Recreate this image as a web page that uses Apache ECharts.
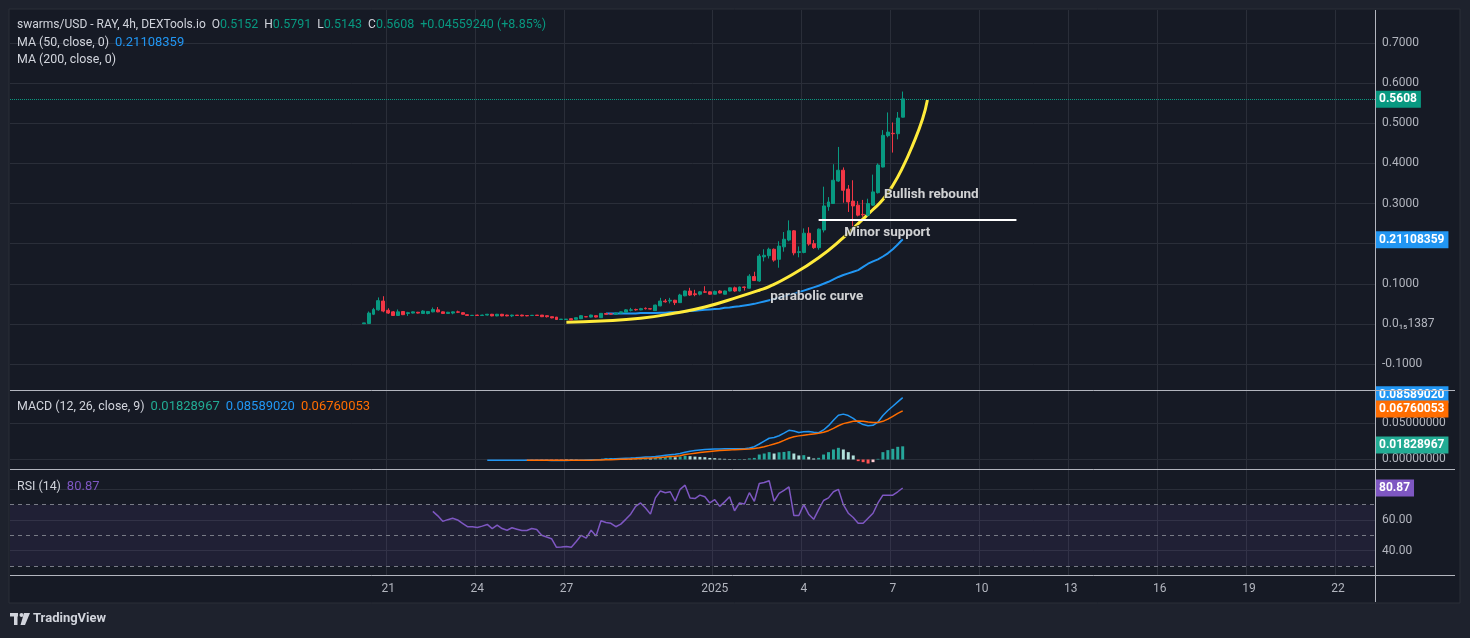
<!DOCTYPE html>
<html><head><meta charset="utf-8">
<script src="https://cdn.jsdelivr.net/npm/echarts@6/dist/echarts.min.js"></script>
<style>html,body{margin:0;padding:0;background:#1e222d;overflow:hidden}#c{width:1470px;height:638px}</style>
</head><body><div id="c"></div>
<script>
// ---------- axis / categories ----------
const firstSlotUTC = Date.UTC(2024, 11, 8, 8);   // first 4h slot shown on the time axis
const slotCount = 276;
const tickDates  = ['2024-12-21 00:00','2024-12-24 00:00','2024-12-27 00:00','2025-01-01 00:00','2025-01-04 00:00','2025-01-07 00:00','2025-01-10 00:00','2025-01-13 00:00','2025-01-16 00:00','2025-01-19 00:00','2025-01-22 00:00'];
const tickLabels = ['21','24','27','2025','4','7','10','13','16','19','22'];
const priceTicks = [-0.1, 0, 0.1, 0.2, 0.3, 0.4, 0.5, 0.6, 0.7];
const macdTicks  = [0, 0.05];
const rsiTicks   = [40, 60, 80];

// ---------- candles (4h): [open, close, low, high] from 2024-12-20 04:00 ----------
const candleStart = '2024-12-20 04:00';
const ohlc = [
 [0.0005,0.0025,0.0005,0.0025],[0.001,0.027,0.001,0.031],[0.024,0.036,0.022,0.040],[0.035,0.058,0.033,0.066],[0.057,0.032,0.029,0.069],
 [0.034,0.027,0.025,0.039],[0.030,0.021,0.020,0.032],[0.021,0.030,0.020,0.036],[0.031,0.023,0.022,0.032],[0.026,0.028,0.020,0.030],
 [0.027,0.030,0.026,0.031],[0.029,0.027,0.026,0.030],[0.026,0.032,0.025,0.034],[0.026,0.031,0.024,0.032],[0.030,0.036,0.029,0.041],
 [0.035,0.030,0.029,0.042],[0.030,0.026,0.025,0.031],[0.026,0.029,0.025,0.030],[0.027,0.030,0.024,0.031],[0.030,0.029,0.027,0.033],
 [0.028,0.024,0.023,0.029],[0.023,0.021,0.020,0.024],[0.021,0.0215,0.020,0.022],[0.022,0.021,0.020,0.023],[0.021,0.022,0.020,0.023],
 [0.022,0.024,0.021,0.025],[0.024,0.020,0.019,0.025],[0.020,0.024,0.019,0.025],[0.024,0.020,0.019,0.025],[0.022,0.020,0.019,0.023],
 [0.020,0.022,0.017,0.023],[0.022,0.021,0.020,0.022],[0.022,0.020,0.019,0.023],[0.021,0.020,0.019,0.022],[0.021,0.0215,0.021,0.022],
 [0.022,0.021,0.021,0.022],[0.022,0.018,0.017,0.022],[0.0205,0.018,0.016,0.021],[0.018,0.015,0.014,0.018],[0.017,0.011,0.010,0.017],
 [0.011,0.012,0.010,0.012],[0.011,0.012,0.010,0.012],[0.013,0.010,0.009,0.014],[0.0115,0.0155,0.011,0.016],[0.013,0.0205,0.012,0.022],
 [0.018,0.0175,0.017,0.018],[0.017,0.022,0.016,0.023],[0.0205,0.017,0.016,0.021],[0.0156,0.0263,0.015,0.027],[0.026,0.024,0.023,0.027],
 [0.025,0.0245,0.024,0.027],[0.024,0.027,0.023,0.028],[0.027,0.030,0.026,0.031],[0.029,0.035,0.028,0.037],[0.034,0.035,0.031,0.040],
 [0.036,0.035,0.033,0.038],[0.035,0.038,0.034,0.040],[0.039,0.038,0.036,0.041],[0.038,0.037,0.036,0.038],[0.033,0.047,0.033,0.048],
 [0.045,0.057,0.044,0.065],[0.057,0.055,0.053,0.062],[0.057,0.059,0.051,0.065],[0.059,0.053,0.047,0.060],[0.053,0.072,0.052,0.075],
 [0.070,0.082,0.069,0.083],[0.082,0.072,0.070,0.090],[0.075,0.073,0.069,0.085],[0.074,0.080,0.071,0.082],[0.080,0.079,0.077,0.094],
 [0.080,0.074,0.073,0.081],[0.074,0.081,0.073,0.083],[0.082,0.077,0.076,0.084],[0.074,0.082,0.073,0.083],[0.082,0.090,0.081,0.091],
 [0.090,0.082,0.080,0.093],[0.082,0.092,0.081,0.093],[0.092,0.091,0.083,0.093],[0.089,0.119,0.088,0.124],[0.118,0.108,0.107,0.130],
 [0.107,0.169,0.105,0.174],[0.167,0.171,0.156,0.186],[0.170,0.186,0.163,0.190],[0.186,0.159,0.155,0.188],[0.161,0.194,0.140,0.206],
 [0.192,0.211,0.180,0.229],[0.209,0.232,0.206,0.258],[0.232,0.177,0.171,0.234],[0.178,0.180,0.166,0.193],[0.178,0.226,0.176,0.238],
 [0.226,0.199,0.195,0.241],[0.200,0.190,0.187,0.209],[0.190,0.236,0.185,0.238],[0.234,0.294,0.228,0.342],[0.292,0.304,0.282,0.316],
 [0.300,0.358,0.300,0.398],[0.356,0.383,0.354,0.441],[0.383,0.333,0.302,0.390],[0.336,0.304,0.279,0.346],[0.306,0.294,0.242,0.358],
 [0.296,0.271,0.268,0.306],[0.273,0.272,0.267,0.309],[0.271,0.300,0.268,0.312],[0.296,0.329,0.294,0.372],[0.327,0.396,0.325,0.400],
 [0.391,0.470,0.390,0.483],[0.469,0.478,0.465,0.527],[0.475,0.474,0.427,0.502],[0.474,0.513,0.460,0.528],[0.5152,0.5608,0.5143,0.5791]
];

// ---------- MA(50) from 2024-12-28 08:00 ----------
const ma50Start = '2024-12-28 08:00';
const ma50 = [
 0.026,0.026,0.026,0.026,0.026,0.026,0.026,0.027,0.027,0.027,
 0.027,0.028,0.028,0.029,0.029,0.030,0.031,0.032,0.033,0.034,
 0.035,0.036,0.037,0.038,0.040,0.041,0.043,0.044,0.046,0.048,
 0.050,0.053,0.056,0.059,0.062,0.065,0.069,0.073,0.076,0.079,
 0.083,0.087,0.091,0.095,0.100,0.105,0.111,0.117,0.122,0.126,
 0.130,0.134,0.142,0.150,0.156,0.161,0.168,0.176,0.186,0.198,
 0.21108359
];

// ---------- drawn annotations ----------
const curveSlots  = [112,119,127,134,140,147,151,153,157,163,168,171,174,176,178,180,182,184,185];
const curveValues = [0.004,0.007,0.014,0.027,0.042,0.068,0.084,0.093,0.118,0.165,0.215,0.25,0.285,0.31,0.345,0.39,0.445,0.51,0.558];
const supportSlots = [163, 203];
const supportValue = 0.259;
const noteTexts  = ['Bullish rebound','Minor support','parabolic curve'];
const noteSlots  = [176, 168, 153];
const noteValues = [0.3212, 0.2265, 0.067];

// ---------- MACD (12,26,9) ----------
const macdStart = '2024-12-24 08:00';
const macdLine = [
 -0.0009,-0.0009,-0.0009,-0.0009,-0.0009,-0.0009,-0.0009,-0.0010,-0.0010,-0.0011,
 -0.0011,-0.0012,-0.0012,-0.0013,-0.0014,-0.0014,-0.0013,-0.0012,-0.0011,-0.0009,
 -0.0007,-0.0005,-0.0003,0.0000,0.0004,0.0008,0.0011,0.0014,0.0017,0.0020,
 0.0024,0.0029,0.0033,0.0036,0.0042,0.0050,0.0058,0.0066,0.0072,0.0084,
 0.0100,0.0114,0.0124,0.0132,0.0138,0.0142,0.0145,0.0147,0.0148,0.0148,
 0.0148,0.0149,0.0150,0.0160,0.0178,0.0215,0.0255,0.0295,0.0305,0.0330,
 0.0365,0.0405,0.0395,0.0375,0.0385,0.0390,0.0378,0.0372,0.0410,0.0470,
 0.0545,0.0615,0.0630,0.0610,0.0570,0.0520,0.0485,0.0470,0.0475,0.0520,
 0.0610,0.0680,0.0740,0.0800,0.08589020
];
const signalStart = '2024-12-25 16:00';
const signalLine = [
 -0.0009,-0.0009,-0.0009,-0.0009,-0.0010,-0.0010,-0.0010,-0.0011,-0.0011,-0.0011,
 -0.0011,-0.0010,-0.0010,-0.0009,-0.0008,-0.0007,-0.0005,-0.0003,-0.0001,0.0002,
 0.0005,0.0008,0.0011,0.0014,0.0017,0.0020,0.0024,0.0029,0.0034,0.0040,
 0.0046,0.0053,0.0068,0.0078,0.0088,0.0097,0.0105,0.0112,0.0118,0.0124,
 0.0129,0.0133,0.0137,0.0140,0.0143,0.0146,0.0152,0.0162,0.0177,0.0196,
 0.0216,0.0236,0.0265,0.0295,0.0315,0.0328,0.0338,0.0346,0.0355,0.0363,
 0.0378,0.0400,0.0432,0.0468,0.0498,0.0515,0.0530,0.0535,0.0530,0.0522,
 0.0515,0.0515,0.0530,0.0560,0.0600,0.0640,0.06760053
];
const histogram = [
 -0.0003,-0.0005,-0.0006,-0.0008,-0.0009,-0.0010,-0.0013,-0.0014,-0.0011,-0.0008,
 -0.0005,-0.0002,0.0003,0.0005,0.0006,0.0008,0.0018,0.0021,0.0015,0.0012,
 0.0010,0.0009,0.0013,0.0017,0.0019,0.0016,0.0022,0.0030,0.0034,0.0038,
 0.0031,0.0040,0.0052,0.0046,0.0040,0.0036,0.0032,0.0022,0.0018,0.0012,
 0.0009,0.0007,0.0005,0.0007,0.0005,0.0015,0.0022,0.0069,0.0083,0.0102,
 0.0083,0.0100,0.0105,0.0116,0.0083,0.0056,0.0060,0.0037,0.0014,0.0023,
 0.0069,0.0102,0.0139,0.0162,0.0139,0.0102,0.0056,-0.0023,-0.0037,-0.0056,
 -0.0037,0.0009,0.0102,0.0130,0.0148,0.0176,0.01828967
];

// ---------- RSI(14) from 2024-12-22 12:00 ----------
const rsiStart = '2024-12-22 12:00';
const rsi = [
 65.6,62.7,59.1,60.2,61.1,60.0,57.8,55.6,55.6,55.1,
 56.0,57.1,54.4,56.7,54.4,53.3,54.9,54.0,53.1,53.1,
 54.4,53.8,50.0,48.9,47.8,42.2,42.4,42.7,42.2,46.0,
 50.0,48.2,53.3,49.6,59.5,58.4,57.8,55.6,57.3,60.4,
 63.8,68.9,71.1,67.8,63.8,74.4,78.9,77.8,78.4,72.2,
 80.0,82.7,74.4,74.0,76.2,75.1,71.1,73.3,68.9,71.8,
 75.1,66.0,71.1,70.4,77.8,72.2,83.8,84.4,85.6,72.2,
 77.3,79.3,81.6,62.9,62.9,70.0,63.8,60.4,66.7,72.7,
 74.4,78.4,80.0,70.0,64.4,61.6,57.8,57.8,61.1,64.4,
 71.1,76.2,76.2,76.2,78.4,80.87
];

// ================= build =================
const FONT = 'Roboto, "Noto Sans", sans-serif';
const pad = n => String(n).padStart(2,'0');
const categories = [];
for (let i = 0; i < slotCount; i++) {
  const d = new Date(firstSlotUTC + i * 4 * 3600e3);
  categories.push(d.getUTCFullYear()+'-'+pad(d.getUTCMonth()+1)+'-'+pad(d.getUTCDate())+' '+pad(d.getUTCHours())+':00');
}
const tickMap = {}; tickDates.forEach((d,i)=>tickMap[d]=tickLabels[i]);
const idx = s => categories.indexOf(s);
const pairs = (start, arr) => { const s = idx(start); return arr.map((v,i)=>[s+i, v]); };

const c0 = idx(candleStart);
const candleData = ohlc.map((r,i)=>[c0+i, r[0], r[1], r[2], r[3]]);
const h0 = idx(signalStart);
const histData = histogram.map((v,i)=>{
  const prev = i>0 ? histogram[i-1] : 0;
  let col;
  if (v >= 0) col = v >= prev ? '#26a69a' : '#b2dfdb';
  else col = v < prev ? '#ff5252' : '#ffcdd2';
  return {value:[h0+i, v], itemStyle:{color:col}};
});

const UP='#089981', DOWN='#f23645', GRID='#2a2e39', TXT='#b2b5be';
const tagLabel = (text,bg)=>({show:true, position:'end', distance:0, formatter:text, backgroundColor:bg, color:'#ffffff',
  opacity:1, padding:[3,4,2,4], fontSize:12, fontWeight:'bold', fontFamily:FONT});
const tagLine = (value,text,bg)=>({silent:true, symbol:['none','none'], animation:false,
  data:[{yAxis:value, lineStyle:{color:'rgba(0,0,0,0)', width:0}, label:tagLabel(text,bg)}]});

const xBase = (gi, showLabel)=>({
  type:'category', gridIndex:gi, data:categories, boundaryGap:true,
  axisLine:{show:false}, axisTick:{show:false},
  axisLabel:{show:showLabel, interval:(i,v)=>tickMap[v]!==undefined, formatter:v=>tickMap[v]||'',
    color:TXT, fontSize:12, fontFamily:FONT, margin:8},
  splitLine:{show:true, interval:(i,v)=>tickMap[v]!==undefined, lineStyle:{color:GRID, width:1}}
});

const T = {fill:'#d1d4dc', fontSize:12.4, fontFamily:FONT};
const V = c => ({fill:c, fontSize:13, fontFamily:FONT});

const chart = echarts.init(document.getElementById('c'), null, {renderer:'canvas'});
const option = {
  animation:false,
  backgroundColor:'#1e222d',
  textStyle:{fontFamily:FONT},
  grid:[
    {left:10, width:1365, top:10, height:380},
    {left:10, width:1365, top:391, height:78},
    {left:10, width:1365, top:470, height:105}
  ],
  xAxis:[xBase(0,false), xBase(1,false), xBase(2,true)],
  yAxis:[
    {type:'value', gridIndex:0, position:'right', min:-0.1647, max:0.7823,
      axisLine:{show:false}, axisTick:{show:false, customValues:priceTicks},
      axisLabel:{customValues:priceTicks, color:TXT, fontSize:12, fontFamily:FONT, margin:7,
        formatter:v=>Math.abs(v)<1e-9?'0.0\u2081\u20851387':(Math.abs(v-0.2)<1e-9?'':v.toFixed(4))},
      splitLine:{lineStyle:{color:GRID}}},
    {type:'value', gridIndex:1, position:'right', min:-0.0132, max:0.0951,
      axisLine:{show:false}, axisTick:{show:false, customValues:macdTicks},
      axisLabel:{customValues:macdTicks, color:TXT, fontSize:12, fontFamily:FONT, margin:7, formatter:v=>v.toFixed(8)},
      splitLine:{lineStyle:{color:GRID}}},
    {type:'value', gridIndex:2, position:'right', min:24.1, max:92.6,
      axisLine:{show:false}, axisTick:{show:false, customValues:rsiTicks},
      axisLabel:{customValues:rsiTicks, color:TXT, fontSize:12, fontFamily:FONT, margin:7, formatter:v=>v===80?'':v.toFixed(2)},
      splitLine:{lineStyle:{color:GRID}}}
  ],
  series:[
    {name:'MA50', type:'line', xAxisIndex:0, yAxisIndex:0, data:pairs(ma50Start, ma50), showSymbol:false,
      lineStyle:{color:'#2196f3', width:2}, z:3, markLine:tagLine(0.21108359,'0.21108359','#2196f3')},
    {name:'parabolic curve', type:'line', xAxisIndex:0, yAxisIndex:0, data:curveSlots.map((s,i)=>[s,curveValues[i]]),
      smooth:0.5, showSymbol:false, lineStyle:{color:'#ffeb3b', width:3}, z:4},
    {name:'swarms/USD', type:'candlestick', xAxisIndex:0, yAxisIndex:0, data:candleData,
      encode:{x:0, y:[1,2,3,4]}, barWidth:'70%', z:5,
      itemStyle:{color:UP, color0:DOWN, borderColor:UP, borderColor0:DOWN, borderWidth:1},
      markLine:{silent:true, symbol:['none','none'], data:[{yAxis:0.5608,
        lineStyle:{type:'dotted', color:UP, width:1, opacity:1}, label:tagLabel('0.5608', UP)}]}},
    {name:'support', type:'line', xAxisIndex:0, yAxisIndex:0, data:supportSlots.map(s=>[s,supportValue]),
      showSymbol:false, lineStyle:{color:'#ffffff', width:2}, z:6},
    {name:'notes', type:'scatter', xAxisIndex:0, yAxisIndex:0, symbolSize:0, z:7,
      data:noteTexts.map((t,i)=>({value:[noteSlots[i], noteValues[i]], name:t})),
      label:{show:true, position:'right', distance:1, formatter:p=>p.name, color:'#ffffff', fontSize:13.5,
        fontWeight:'bold', fontFamily:FONT, textBorderColor:'rgba(22,26,37,0.9)', textBorderWidth:2}},
    {name:'Histogram', type:'bar', xAxisIndex:1, yAxisIndex:1, data:histData, barWidth:'60%',
      markLine:tagLine(0.01828967,'0.01828967','#22ab94')},
    {name:'MACD', type:'line', xAxisIndex:1, yAxisIndex:1, data:pairs(macdStart, macdLine), showSymbol:false,
      lineStyle:{color:'#2196f3', width:1.5}, markLine:tagLine(0.08589020,'0.08589020','#2196f3')},
    {name:'Signal', type:'line', xAxisIndex:1, yAxisIndex:1, data:pairs(signalStart, signalLine), showSymbol:false,
      lineStyle:{color:'#ff6d00', width:1.5}, z:3, markLine:tagLine(0.06760053,'0.06760053','#ff6d00')},
    {name:'RSI', type:'line', xAxisIndex:2, yAxisIndex:2, data:pairs(rsiStart, rsi), showSymbol:false,
      lineStyle:{color:'#7e57c2', width:1.5}, z:4,
      markArea:{silent:true, itemStyle:{color:'rgba(126,87,194,0.10)'}, data:[[{yAxis:30},{yAxis:70}]]},
      markLine:{silent:true, symbol:['none','none'], data:[
        {yAxis:70, lineStyle:{type:[4,4], color:'#787b86', width:1}, label:{show:false}},
        {yAxis:50, lineStyle:{type:[4,4], color:'#787b86', width:1}, label:{show:false}},
        {yAxis:30, lineStyle:{type:[4,4], color:'#787b86', width:1}, label:{show:false}},
        {yAxis:80.87, lineStyle:{color:'rgba(0,0,0,0)', width:0}, label:tagLabel('80.87','#7e57c2')}
      ]}}
  ],
  graphic:[
    {type:'rect', silent:true, z:-100, shape:{x:9, y:9, width:1451, height:594}, style:{fill:'#161a25', stroke:'#2a2e39', lineWidth:1}},
    {type:'line', silent:true, z:50, shape:{x1:10, y1:390.5, x2:1455, y2:390.5}, style:{stroke:'#b2b5be', lineWidth:1}},
    {type:'line', silent:true, z:50, shape:{x1:10, y1:469.5, x2:1455, y2:469.5}, style:{stroke:'#b2b5be', lineWidth:1}},
    {type:'line', silent:true, z:50, shape:{x1:10, y1:575.5, x2:1455, y2:575.5}, style:{stroke:'#b2b5be', lineWidth:1}},
    {type:'line', silent:true, z:50, shape:{x1:1375.5, y1:10, x2:1375.5, y2:602}, style:{stroke:'#b2b5be', lineWidth:1}},
    {type:'text', silent:true, z:60, left:17, top:18, style:{fontFamily:FONT, fontSize:12,
      text:'{t|swarms/USD - RAY, 4h, DEXTools.io}  {t|O}{g|0.5152}  {t|H}{g|0.5791}  {t|L}{g|0.5143}  {t|C}{g|0.5608}  {g|+0.04559240 (+8.85%)}',
      rich:{t:{fill:'#d1d4dc', fontSize:12, fontFamily:FONT}, g:{fill:'#089981', fontSize:12.5, fontFamily:FONT}}}},
    {type:'text', silent:true, z:60, left:17, top:36, style:{fontFamily:FONT, fontSize:12,
      text:'{t|MA (50, close, 0)}  {b|0.21108359}', rich:{t:T, b:V('#2196f3')}}},
    {type:'text', silent:true, z:60, left:17, top:54, style:{fontFamily:FONT, fontSize:12.4, fill:'#d1d4dc', text:'MA (200, close, 0)'}},
    {type:'text', silent:true, z:60, left:17, top:400, style:{fontFamily:FONT, fontSize:12,
      text:'{t|MACD (12, 26, close, 9)}  {g|0.01828967}  {b|0.08589020}  {o|0.06760053}',
      rich:{t:T, g:V('#22ab94'), b:V('#2196f3'), o:V('#ff6d00')}}},
    {type:'text', silent:true, z:60, left:17, top:480, style:{fontFamily:FONT, fontSize:12,
      text:'{t|RSI (14)}  {p|80.87}', rich:{t:T, p:V('#7e57c2')}}},
    {type:'group', silent:true, z:60, left:10, top:613, children:[
      {type:'rect', shape:{x:0, y:0, width:8, height:3.5}, style:{fill:'#d1d4dc'}},
      {type:'rect', shape:{x:4, y:0, width:3.5, height:12}, style:{fill:'#d1d4dc'}},
      {type:'circle', shape:{cx:11.5, cy:2, r:2}, style:{fill:'#d1d4dc'}},
      {type:'polygon', shape:{points:[[14,0],[20,0],[15,12],[10.5,12]]}, style:{fill:'#d1d4dc'}}
    ]},
    {type:'text', silent:true, z:60, left:33, top:612, style:{fontFamily:FONT, fontSize:13, fontWeight:'bold', fill:'#d1d4dc', text:'TradingView'}}
  ]
};
chart.setOption(option);
</script></body></html>
